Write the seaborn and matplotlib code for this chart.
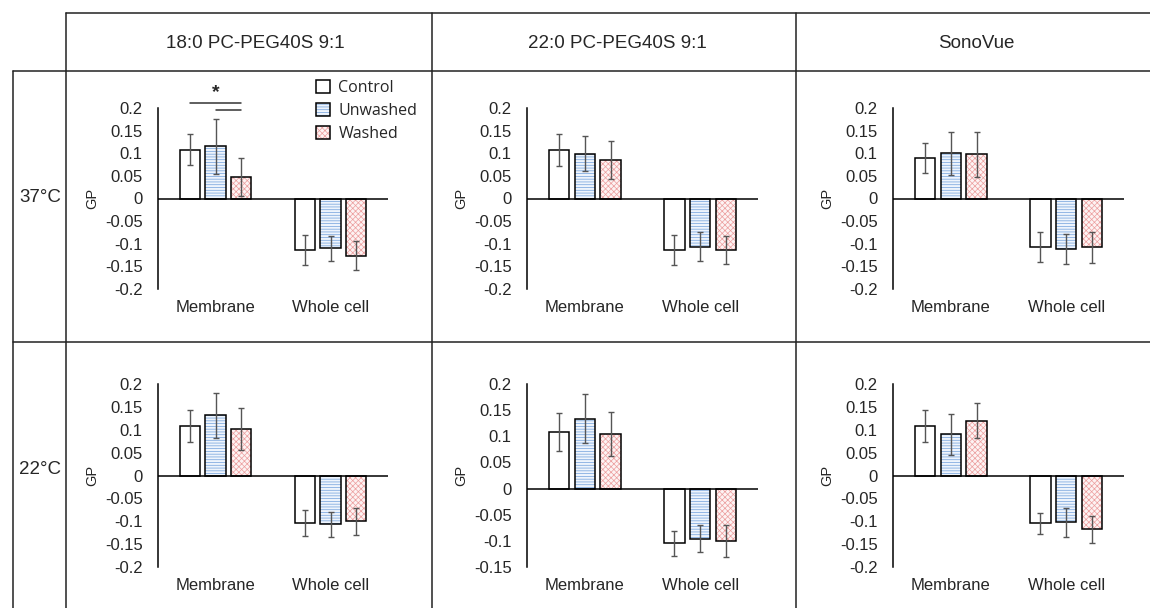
import numpy as np
import pandas as pd
import matplotlib
matplotlib.use("Agg")
import matplotlib.pyplot as plt
import seaborn as sns
from matplotlib.patches import Rectangle
from matplotlib.ticker import FuncFormatter

conditions = ["18:0 PC-PEG40S 9:1", "22:0 PC-PEG40S 9:1", "SonoVue"]
temps = ["37°C", "22°C"]
locations = ["Membrane", "Whole cell"]
groups = ["Control", "Unwashed", "Washed"]

# GP means, rows = Control / Unwashed / Washed, cols = Membrane / Whole cell
mean_37_18 = [[0.108, -0.114], [0.115, -0.110], [0.048, -0.127]]
err_37_18 = [[0.035, 0.033], [0.060, 0.028], [0.042, 0.032]]
mean_37_22 = [[0.107, -0.113], [0.099, -0.107], [0.084, -0.113]]
err_37_22 = [[0.035, 0.033], [0.039, 0.032], [0.042, 0.031]]
mean_37_sv = [[0.090, -0.107], [0.100, -0.112], [0.098, -0.108]]
err_37_sv = [[0.033, 0.033], [0.047, 0.033], [0.050, 0.034]]
mean_22_18 = [[0.108, -0.104], [0.132, -0.107], [0.101, -0.100]]
err_22_18 = [[0.035, 0.028], [0.049, 0.028], [0.046, 0.030]]
mean_22_22 = [[0.108, -0.105], [0.134, -0.096], [0.104, -0.100]]
err_22_22 = [[0.036, 0.024], [0.046, 0.026], [0.042, 0.030]]
mean_22_sv = [[0.108, -0.104], [0.090, -0.102], [0.120, -0.118]]
err_22_sv = [[0.035, 0.023], [0.045, 0.032], [0.039, 0.030]]

means = [[mean_37_18, mean_37_22, mean_37_sv], [mean_22_18, mean_22_22, mean_22_sv]]
errs = [[err_37_18, err_37_22, err_37_sv], [err_22_18, err_22_22, err_22_sv]]
ylims = [[(-0.2, 0.2)] * 3, [(-0.2, 0.2), (-0.15, 0.2), (-0.2, 0.2)]]

sns.set_style("white")
plt.rcParams["font.family"] = ["Liberation Sans", "DejaVu Sans"]
plt.rcParams["axes.unicode_minus"] = False
plt.rcParams["hatch.linewidth"] = 0.5

face = {"Control": "white", "Unwashed": "#eef4fc", "Washed": "#fdf3f3"}
hatch = {"Control": "", "Unwashed": "------", "Washed": "xxxxxx"}
hcol = {"Control": "white", "Unwashed": "#6f9fdb", "Washed": "#ec9e9e"}

W, H = 1150, 608
fig = plt.figure(figsize=(W / 100, H / 100), dpi=100)

# table grid
bg = fig.add_axes([0, 0, 1, 1], zorder=-5)
bg.set_xlim(0, W)
bg.set_ylim(H, 0)
bg.axis("off")
lc = dict(color="#222222", lw=1.1)
bg.plot([66, W], [13, 13], **lc)
bg.plot([13, W], [71, 71], **lc)
bg.plot([13, W], [342, 342], **lc)
bg.plot([13, 13], [71, H], **lc)
for xv in [66, 432, 796]:
    bg.plot([xv, xv], [13, H], **lc)
for xs, txt in zip([166, 528, 938], conditions):
    bg.text(xs, 43, txt, fontsize=13.5, ha="left", va="center")
for yc, txt in zip([198, 470], temps):
    bg.text(40, yc, txt, fontsize=13.5, ha="center", va="center")

lefts = [158, 527, 893]
rights = [388, 758, 1124]
tops = [108, 384]
bottoms = [289, 567]

fmt = FuncFormatter(lambda v, _: f"{round(v, 2) + 0.0:g}")

for r in range(2):
    for c in range(3):
        l, rt, t, b = lefts[c], rights[c], tops[r], bottoms[r]
        ax = fig.add_axes([l / W, 1 - b / H, (rt - l) / W, (b - t) / H])
        ax.set_facecolor("none")
        rows = []
        for gi, g in enumerate(groups):
            for li, loc in enumerate(locations):
                rows.append({"location": loc, "group": g, "GP": means[r][c][gi][li]})
        df = pd.DataFrame(rows)
        sns.barplot(data=df, x="location", y="GP", hue="group", order=locations,
                    hue_order=groups, palette=face, saturation=1, width=0.67,
                    gap=0.22, errorbar=None, legend=False, ax=ax, zorder=2)
        bars = list(ax.patches)
        centers = {}
        for k, p in enumerate(bars):
            g = groups[k // 2]
            li = k % 2
            p.set_hatch(hatch[g])
            p.set_edgecolor(hcol[g])
            p.set_linewidth(0)
            ax.add_patch(Rectangle(p.get_xy(), p.get_width(), p.get_height(),
                                   fill=False, edgecolor="black", lw=1.1, zorder=3))
            xc = p.get_x() + p.get_width() / 2
            centers[(g, li)] = xc
            ax.errorbar(xc, means[r][c][k // 2][li], yerr=errs[r][c][k // 2][li],
                        fmt="none", ecolor="#555555", elinewidth=1, capsize=2.5,
                        capthick=1, zorder=4)
        ax.set_xlim(-0.5, 1.5)
        ax.set_ylim(*ylims[r][c])
        lo, hi = ylims[r][c]
        ax.set_yticks(np.round(np.arange(lo, hi + 0.001, 0.05), 2))
        ax.yaxis.set_major_formatter(fmt)
        ax.axhline(0, color="black", lw=1.1, zorder=5)
        for s in ["top", "right", "bottom"]:
            ax.spines[s].set_visible(False)
        ax.spines["left"].set_color("black")
        ax.spines["left"].set_linewidth(1.1)
        ax.tick_params(axis="y", length=0, pad=11, labelsize=12)
        ax.tick_params(axis="x", length=0, pad=8, labelsize=12)
        ax.set_xlabel("")
        ax.set_ylabel("GP", fontsize=10.5)
        ax.yaxis.set_label_coords(-0.255, 0.5)

        if r == 0 and c == 0:
            x0 = centers[("Control", 0)]
            x1 = centers[("Unwashed", 0)]
            x2 = centers[("Washed", 0)]
            ax.plot([x0, x2], [0.21, 0.21], color="#333333", lw=1.1, clip_on=False)
            ax.plot([x1, x2], [0.195, 0.195], color="#333333", lw=1.1, clip_on=False)
            ax.text((x0 + x2) / 2, 0.233, "*", fontsize=14, fontweight="bold",
                    ha="center", va="center", clip_on=False)
            handles = []
            for g in groups:
                hp = Rectangle((0, 0), 1, 1, facecolor=face[g], hatch=hatch[g],
                               edgecolor=hcol[g], lw=0)
                op = Rectangle((0, 0), 1, 1, fill=False, edgecolor="black", lw=1.1)
                handles.append((hp, op))
            ax.legend(handles, groups, loc="upper left",
                      bbox_to_anchor=(316 / W, 1 - 80 / H),
                      bbox_transform=fig.transFigure, frameon=False, borderpad=0,
                      borderaxespad=0, handlelength=0.9, handleheight=0.9,
                      handletextpad=0.5, labelspacing=0.42,
                      prop={"family": ["Open Sans", "DejaVu Sans"], "size": 11.5})

fig.savefig("out.png", dpi=100)
